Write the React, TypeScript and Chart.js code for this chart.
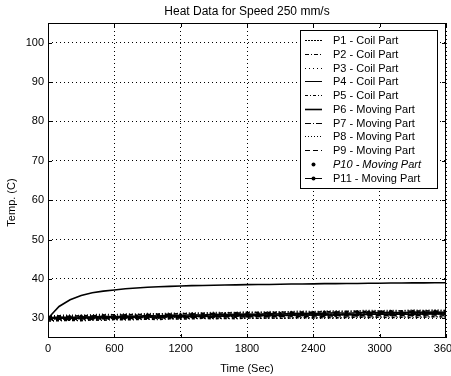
import React, { useEffect, useRef } from 'react';
import { Chart, registerables } from 'chart.js';
Chart.register(...registerables);

const chartTitle = 'Heat Data for Speed 250 mm/s';
const xTitle = 'Time (Sec)';
const yTitle = 'Temp. (C)';

const time = [0, 100, 200, 300, 400, 500, 600, 700, 800, 900, 1000, 1100, 1200, 1300, 1400, 1500, 1600, 1700, 1800, 1900, 2000, 2100, 2200, 2300, 2400, 2500, 2600, 2700, 2800, 2900, 3000, 3100, 3200, 3300, 3400, 3500, 3600];
const xTicks = [0, 600, 1200, 1800, 2400, 3000, 3600];
const yTicks = [30, 40, 50, 60, 70, 80, 90, 100];

const labels = ['P1 - Coil Part', 'P2 - Coil Part', 'P3 - Coil Part', 'P4 - Coil Part', 'P5 - Coil Part', 'P6 - Moving Part', 'P7 - Moving Part', 'P8 - Moving Part', 'P9 - Moving Part', 'P10 - Moving Part', 'P11 - Moving Part'];

const p1 = [29.8, 29.9, 29.7, 30.0, 29.9, 30.1, 30.0, 30.2, 30.1, 30.3, 30.2, 30.4, 30.3, 30.5, 30.4, 30.5, 30.6, 30.5, 30.7, 30.6, 30.7, 30.8, 30.7, 30.9, 30.8, 30.9, 31.0, 30.9, 31.0, 31.1, 31.0, 31.1, 31.2, 31.1, 31.2, 31.1, 31.2];
const p2 = [30.4, 30.6, 30.5, 30.7, 30.6, 30.8, 30.9, 30.8, 31.0, 30.9, 31.1, 31.0, 31.2, 31.1, 31.3, 31.2, 31.4, 31.3, 31.4, 31.5, 31.4, 31.6, 31.5, 31.6, 31.5, 31.7, 31.6, 31.7, 31.8, 31.7, 31.8, 31.7, 31.9, 31.8, 31.9, 31.8, 31.9];
const p3 = [29.5, 29.6, 29.5, 29.7, 29.6, 29.8, 29.7, 29.8, 29.9, 29.8, 30.0, 29.9, 30.0, 30.1, 30.0, 30.1, 30.0, 30.2, 30.1, 30.2, 30.1, 30.3, 30.2, 30.3, 30.2, 30.3, 30.4, 30.3, 30.4, 30.3, 30.4, 30.5, 30.4, 30.5, 30.4, 30.5, 30.4];
const p4 = [30.1, 30.3, 30.2, 30.4, 30.3, 30.5, 30.4, 30.6, 30.5, 30.7, 30.6, 30.8, 30.7, 30.9, 30.8, 31.0, 30.9, 31.0, 31.1, 31.0, 31.2, 31.1, 31.2, 31.3, 31.2, 31.3, 31.4, 31.3, 31.4, 31.5, 31.4, 31.5, 31.4, 31.6, 31.5, 31.6, 31.5];
const p5 = [29.3, 29.4, 29.5, 29.4, 29.6, 29.5, 29.7, 29.6, 29.7, 29.8, 29.7, 29.9, 29.8, 29.9, 30.0, 29.9, 30.0, 29.9, 30.1, 30.0, 30.1, 30.0, 30.1, 30.2, 30.1, 30.2, 30.1, 30.2, 30.3, 30.2, 30.3, 30.2, 30.3, 30.2, 30.3, 30.4, 30.3];
const p6 = [30.0, 33.0, 34.7, 35.8, 36.5, 36.9, 37.2, 37.5, 37.7, 37.9, 38.0, 38.1, 38.2, 38.3, 38.35, 38.4, 38.45, 38.5, 38.55, 38.6, 38.6, 38.65, 38.7, 38.7, 38.75, 38.8, 38.8, 38.85, 38.85, 38.9, 38.9, 38.95, 38.95, 39.0, 39.0, 39.05, 39.05];
const p7 = [30.0, 30.1, 30.0, 30.2, 30.1, 30.3, 30.2, 30.4, 30.3, 30.4, 30.5, 30.4, 30.6, 30.5, 30.6, 30.7, 30.6, 30.8, 30.7, 30.8, 30.9, 30.8, 30.9, 31.0, 30.9, 31.0, 31.1, 31.0, 31.1, 31.2, 31.1, 31.2, 31.1, 31.3, 31.2, 31.3, 31.2];
const p8 = [30.6, 30.7, 30.8, 30.7, 30.9, 31.0, 30.9, 31.1, 31.0, 31.2, 31.1, 31.3, 31.2, 31.4, 31.3, 31.5, 31.4, 31.5, 31.6, 31.5, 31.7, 31.6, 31.7, 31.8, 31.7, 31.8, 31.9, 31.8, 31.9, 32.0, 31.9, 32.0, 31.9, 32.1, 32.0, 32.1, 32.0];
const p9 = [29.6, 29.8, 29.7, 29.9, 29.8, 29.9, 30.0, 29.9, 30.1, 30.0, 30.1, 30.2, 30.1, 30.3, 30.2, 30.3, 30.4, 30.3, 30.4, 30.5, 30.4, 30.5, 30.6, 30.5, 30.6, 30.5, 30.7, 30.6, 30.7, 30.6, 30.8, 30.7, 30.8, 30.7, 30.8, 30.9, 30.8];
const p10 = [30.2, 30.4, 30.3, 30.5, 30.4, 30.6, 30.5, 30.7, 30.6, 30.8, 30.7, 30.9, 30.8, 31.0, 30.9, 31.1, 31.0, 31.2, 31.1, 31.2, 31.3, 31.2, 31.4, 31.3, 31.4, 31.5, 31.4, 31.5, 31.6, 31.5, 31.6, 31.7, 31.6, 31.7, 31.6, 31.7, 31.8];
const p11 = [29.9, 30.0, 30.1, 30.0, 30.2, 30.1, 30.3, 30.2, 30.3, 30.4, 30.3, 30.5, 30.4, 30.5, 30.6, 30.5, 30.6, 30.7, 30.6, 30.7, 30.8, 30.7, 30.8, 30.9, 30.8, 30.9, 30.8, 31.0, 30.9, 31.0, 31.1, 31.0, 31.1, 31.0, 31.1, 31.2, 31.1];

const seriesValues = [p1, p2, p3, p4, p5, p6, p7, p8, p9, p10, p11];

// styles
const dashes: number[][] = [[2, 1], [4, 2, 1, 2], [1, 3], [], [3, 2, 1, 2], [], [6, 2, 1, 2], [1, 2], [5, 3], [], []];
const widths = [1.6, 1.6, 1.6, 1.6, 1.6, 1.6, 1.6, 1.6, 1.6, 1, 1.6];
const legendWidths = [1, 1, 1, 1, 1, 1.6, 1, 1, 1, 1, 1];
const showLines = [true, true, true, true, true, true, true, true, true, false, true];
const pointRadii = [0, 0, 0, 0, 0, 0, 0, 0, 0, 1.8, 1.8];

const FONT = '"Liberation Sans", Arial, sans-serif';

const decorPlugin = {
  id: 'decor',
  afterDraw(chart: any) {
    const ctx = chart.ctx as CanvasRenderingContext2D;
    const { left, right, top, bottom } = chart.chartArea;
    const xs = chart.scales.x;
    const ys = chart.scales.y;
    ctx.save();
    // frame
    ctx.strokeStyle = '#000';
    ctx.lineWidth = 1;
    ctx.setLineDash([]);
    ctx.strokeRect(Math.round(left) + 0.5, Math.round(top) + 0.5, Math.round(right - left) - 1, Math.round(bottom - top) - 1);
    // inward ticks
    const tl = 4;
    ctx.beginPath();
    xTicks.forEach((v) => {
      const px = Math.round(xs.getPixelForValue(v)) + 0.5;
      ctx.moveTo(px, bottom);
      ctx.lineTo(px, bottom - tl);
      ctx.moveTo(px, top);
      ctx.lineTo(px, top + tl);
    });
    yTicks.forEach((v) => {
      const py = Math.round(ys.getPixelForValue(v)) + 0.5;
      ctx.moveTo(left, py);
      ctx.lineTo(left + tl, py);
      ctx.moveTo(right, py);
      ctx.lineTo(right - tl, py);
    });
    ctx.stroke();

    // title
    ctx.fillStyle = '#000';
    ctx.font = `12px ${FONT}`;
    ctx.textAlign = 'center';
    ctx.textBaseline = 'middle';
    ctx.fillText(chartTitle, (left + right) / 2, 12);

    // y title
    ctx.save();
    ctx.translate(12, (top + bottom) / 2 + 22);
    ctx.rotate(-Math.PI / 2);
    ctx.font = `11px ${FONT}`;
    ctx.fillText(yTitle, 0, 0);
    ctx.restore();

    // legend box
    const bx = right - 146;
    const by = top + 7;
    const bw = 137;
    const bh = 158;
    ctx.fillStyle = '#fff';
    ctx.fillRect(bx, by, bw, bh);
    ctx.strokeStyle = '#000';
    ctx.lineWidth = 1;
    ctx.strokeRect(Math.round(bx) + 0.5, Math.round(by) + 0.5, bw, bh);
    chart.data.datasets.forEach((ds: any, i: number) => {
      const cy = Math.round(by + 10 + i * 13.75) + 0.5;
      const x0 = bx + 5;
      const x1 = bx + 22;
      ctx.strokeStyle = '#000';
      ctx.fillStyle = '#000';
      if (ds.showLine !== false) {
        ctx.beginPath();
        ctx.setLineDash(ds.borderDash || []);
        ctx.lineWidth = legendWidths[i];
        ctx.moveTo(x0, cy);
        ctx.lineTo(x1, cy);
        ctx.stroke();
        ctx.setLineDash([]);
      }
      if (ds.pointRadius > 0) {
        ctx.beginPath();
        ctx.arc((x0 + x1) / 2, cy, 2, 0, Math.PI * 2);
        ctx.fill();
      }
      ctx.font = `${i === 9 ? 'italic ' : ''}11px ${FONT}`;
      ctx.textAlign = 'left';
      ctx.textBaseline = 'middle';
      ctx.fillText(ds.label, bx + 33, cy);
    });
    ctx.restore();
  },
};

export default function App() {
  const ref = useRef<HTMLCanvasElement | null>(null);
  useEffect(() => {
    document.body.style.margin = '0';
    const canvas = ref.current!;
    const datasets = seriesValues.map((vals, i) => ({
      label: labels[i],
      data: vals.map((v, j) => ({ x: time[j], y: v })),
      borderColor: '#000',
      backgroundColor: '#000',
      borderWidth: widths[i],
      borderDash: dashes[i],
      showLine: showLines[i],
      pointRadius: pointRadii[i],
      pointBorderWidth: 0,
      tension: 0,
      fill: false,
    }));
    const chart = new Chart(canvas, {
      type: 'line',
      data: { datasets },
      options: {
        animation: false,
        responsive: false,
        devicePixelRatio: 1,
        layout: { padding: { top: 23, right: 5, left: 0, bottom: 0 } },
        plugins: {
          legend: { display: false },
          title: { display: false },
          tooltip: { enabled: false },
        },
        scales: {
          x: {
            type: 'linear',
            min: 0,
            max: 3600,
            afterBuildTicks: (s: any) => { s.ticks = xTicks.map((v) => ({ value: v })); },
            afterFit: (s: any) => { s.height = 38; s.paddingLeft = 0; s.paddingRight = 0; },
            grid: { color: '#000', lineWidth: 1, drawTicks: false },
            border: { display: false, dash: [1, 3] },
            ticks: { color: '#000', font: { family: FONT, size: 11 }, padding: 4, maxRotation: 0, autoSkip: false, callback: (v: any) => String(v) },
            title: { display: true, text: xTitle, color: '#000', font: { family: FONT, size: 11 }, padding: { top: 0, bottom: 0 } },
          },
          y: {
            type: 'linear',
            min: 25,
            max: 105,
            afterBuildTicks: (s: any) => { s.ticks = yTicks.map((v) => ({ value: v })); },
            afterFit: (s: any) => { s.width = 48; s.paddingTop = 0; s.paddingBottom = 0; },
            grid: { color: '#000', lineWidth: 1, drawTicks: false },
            border: { display: false, dash: [1, 3] },
            ticks: { color: '#000', font: { family: FONT, size: 11 }, padding: 4, autoSkip: false, callback: (v: any) => String(v) },
            title: { display: false },
          },
        },
      },
      plugins: [decorPlugin],
    });
    return () => chart.destroy();
  }, []);
  return (
    <div style={{ width: 451, height: 376, background: '#fff' }}>
      <canvas ref={ref} width={451} height={376} />
    </div>
  );
}
